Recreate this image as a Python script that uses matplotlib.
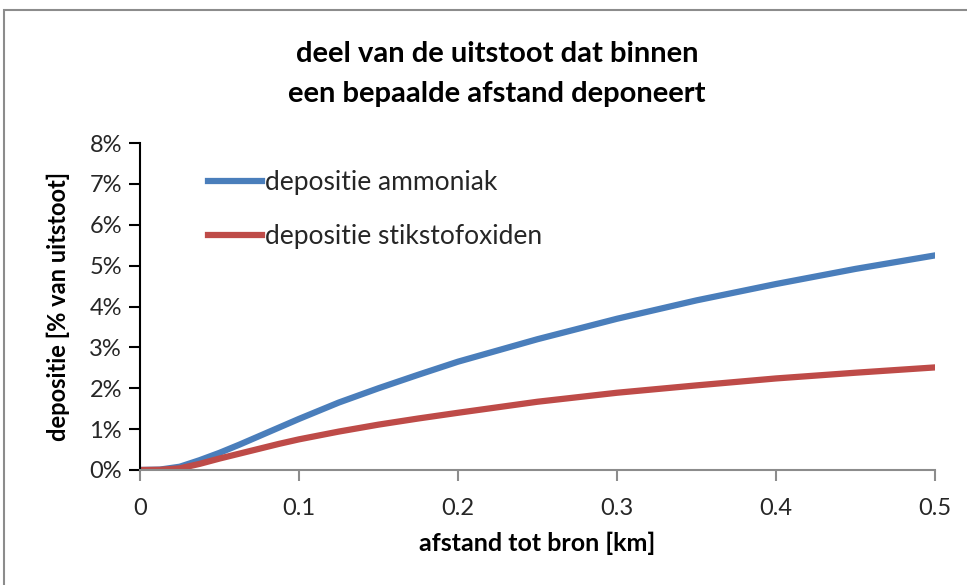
import matplotlib.pyplot as plt
from matplotlib.patches import Rectangle
from matplotlib.ticker import FuncFormatter

# afstand tot bron [km] en depositie [% van uitstoot]
afstand = [0, 0.0125, 0.025, 0.0375, 0.05, 0.0625, 0.075, 0.0875, 0.1, 0.125,
           0.15, 0.175, 0.2, 0.25, 0.3, 0.35, 0.4, 0.45, 0.5]
ammoniak = [0, 0.01, 0.08, 0.24, 0.42, 0.62, 0.83, 1.04, 1.25, 1.65,
            2.0, 2.33, 2.65, 3.2, 3.7, 4.15, 4.55, 4.92, 5.25]
stikstofoxiden = [0, 0.005, 0.04, 0.15, 0.28, 0.40, 0.52, 0.64, 0.75, 0.94,
                  1.11, 1.26, 1.40, 1.67, 1.89, 2.07, 2.24, 2.38, 2.51]

plt.rcParams['font.family'] = ['Lato', 'DejaVu Sans']
plt.rcParams['text.color'] = '#262626'
tekst = '#262626'

fig = plt.figure(figsize=(9.67, 5.85), dpi=100)
fig.patches.append(Rectangle((4 / 967, -0.1), 1.2, 1.1 - 10 / 585,
                             transform=fig.transFigure, fill=False,
                             edgecolor='#8c8c8c', linewidth=1.5))

ax = fig.add_axes([140 / 967, 115 / 585, 795 / 967, 327 / 585])
ax.plot(afstand, ammoniak, color='#4a7ebb', linewidth=4.5,
        label='depositie ammoniak', solid_joinstyle='round')
ax.plot(afstand, stikstofoxiden, color='#be4b48', linewidth=4.5,
        label='depositie stikstofoxiden', solid_joinstyle='round')

ax.set_xlim(0, 0.5)
ax.set_ylim(0, 8)
ax.set_xticks([0, 0.1, 0.2, 0.3, 0.4, 0.5])
ax.set_xticklabels(['0', '0.1', '0.2', '0.3', '0.4', '0.5'])
ax.set_yticks(range(0, 9))
ax.yaxis.set_major_formatter(FuncFormatter(lambda v, p: f'{int(v)}%'))

for s in ['top', 'right']:
    ax.spines[s].set_visible(False)
ax.spines['left'].set_color('black')
ax.spines['left'].set_linewidth(1.5)
ax.spines['bottom'].set_color('#8c8c8c')
ax.spines['bottom'].set_linewidth(1.5)
ax.tick_params(axis='y', direction='out', length=8, width=1.5, color='black',
               labelsize=17, pad=5, labelcolor=tekst)
ax.tick_params(axis='x', direction='out', length=8, width=1.5, color='#8c8c8c',
               labelsize=17, pad=12, labelcolor=tekst)

ax.set_xlabel('afstand tot bron [km]', fontsize=18, fontweight='bold', labelpad=9,
              color='black')
ax.set_ylabel('depositie [% van uitstoot]', fontsize=17, fontweight='bold', labelpad=14,
              color='black')

fig.text(0.514, 0.874, 'deel van de uitstoot dat binnen\neen bepaalde afstand deponeert',
         ha='center', va='center', fontsize=21, fontweight='bold', linespacing=1.65,
         color='black')

ax.legend(loc='upper left', bbox_to_anchor=(0.0855, 0.917), frameon=False,
          fontsize=19, handlelength=2.05, handletextpad=0.1, labelspacing=1.1,
          borderpad=0, borderaxespad=0)

fig.savefig('out.png', dpi=100)
